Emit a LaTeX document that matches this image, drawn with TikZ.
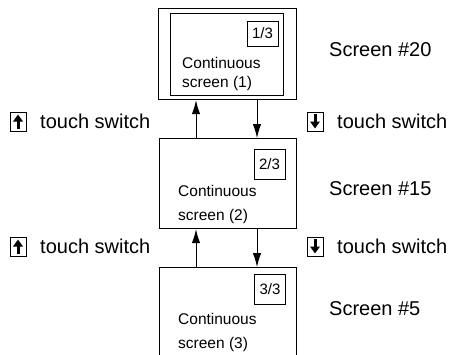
\documentclass[tikz,border=0pt]{standalone}
\usepackage{fontspec}
\setmainfont{Liberation Sans}
\usetikzlibrary{arrows.meta}
\begin{document}
\begin{tikzpicture}[x=1pt,y=-1pt,
  box/.style={draw,line width=1.2pt,inner sep=0pt,anchor=north west},
  tag/.style={draw,line width=0.9pt,inner sep=0pt,minimum width=31pt,font=\fontsize{15}{18}\selectfont},
  intext/.style={anchor=base west,inner sep=0pt,font=\fontsize{15.5}{18}\selectfont},
  outtext/.style={anchor=base west,inner sep=0pt,font=\fontsize{20}{24}\selectfont},
  icon/.style={draw,line width=1pt,inner sep=0pt,minimum width=16pt,minimum height=19pt},
  arr/.style={line width=1pt,-{Latex[length=14pt,width=8.5pt]}},
  iconarrow/.style={line width=3pt,-{Triangle[length=7pt,width=9.5pt]}}
]
\clip (0,0) rectangle (452,354);
% screen 1
\node[box,minimum width=138pt,minimum height=91pt] (b1) at (158,8) {};
\node[box,minimum width=113pt,minimum height=82pt] (b1i) at (170,13) {};
\node[tag,minimum height=25pt] (t1) at (262.5,33.5) {1/3};
\node[intext] (c1) at (182,68) {Continuous};
\node[intext] (s1) at (182,87) {screen (1)};
% screen 2
\node[box,minimum width=137pt,minimum height=90pt] (b2) at (159,138) {};
\node[tag,minimum height=30pt] (t2) at (269.5,164) {2/3};
\node[intext] (c2) at (178,196) {Continuous};
\node[intext] (s2) at (178,220) {screen (2)};
% screen 3
\node[box,minimum width=137pt,minimum height=120pt] (b3) at (159,267) {};
\node[tag,minimum height=30pt] (t3) at (270,289) {3/3};
\node[intext] (c3) at (178,324) {Continuous};
\node[intext] (s3) at (178,348) {screen (3)};
% arrows
\coordinate (ux) at (196,0);
\coordinate (dx) at (257,0);
\draw[arr] (b2.north -| ux) -- (b1.south -| ux);
\draw[arr] (b1.south -| dx) -- (b2.north -| dx);
\draw[arr] (b3.north -| ux) -- (b2.south -| ux);
\draw[arr] (b2.south -| dx) -- (b3.north -| dx);
% screen labels
\node[outtext] (n20) at (329,56) {Screen \#20};
\node[outtext] (n15) at (329,195) {Screen \#15};
\node[outtext] (n5) at (329,315) {Screen \#5};
% touch switch labels
\node[icon] (iu1) at (18,121.5) {};
\draw[iconarrow] ([yshift=-7.5pt]iu1.center) -- ([yshift=7pt]iu1.center);
\node[outtext] (lu1) at (40,128) {touch switch};
\node[icon] (id1) at (315,121.5) {};
\draw[iconarrow] ([yshift=7.5pt]id1.center) -- ([yshift=-7pt]id1.center);
\node[outtext] (ld1) at (337,128) {touch switch};
\node[icon] (iu2) at (18,246.5) {};
\draw[iconarrow] ([yshift=-7.5pt]iu2.center) -- ([yshift=7pt]iu2.center);
\node[outtext] (lu2) at (40,253) {touch switch};
\node[icon] (id2) at (315,246.5) {};
\draw[iconarrow] ([yshift=7.5pt]id2.center) -- ([yshift=-7pt]id2.center);
\node[outtext] (ld2) at (337,253) {touch switch};
\end{tikzpicture}
\end{document}
